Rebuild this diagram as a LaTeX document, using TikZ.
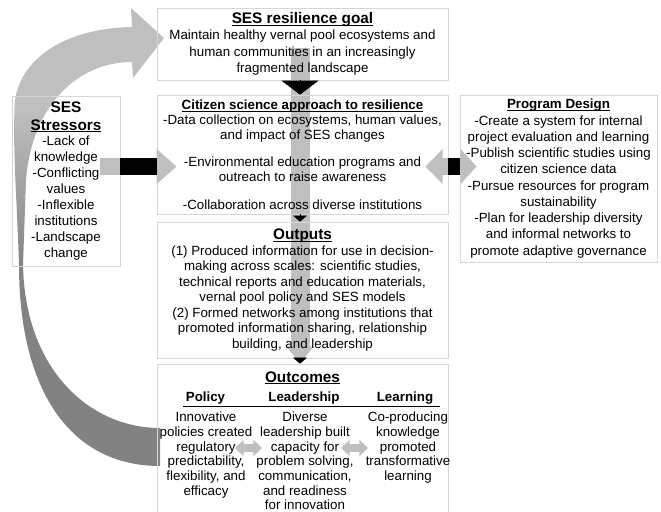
\documentclass[tikz,border=0pt]{standalone}
\usepackage{fontspec}
\setmainfont{Liberation Sans}
\usetikzlibrary{arrows.meta,calc}
\pgfdeclarelayer{background}
\pgfsetlayers{background,main}
\definecolor{boxline}{HTML}{D6D6D6}
\definecolor{lightarrow}{HTML}{BFBFBF}
\definecolor{darkarrow}{HTML}{828282}
\pgfdeclareverticalshading{arcshade}{100bp}{color(0bp)=(darkarrow); color(46bp)=(darkarrow); color(64bp)=(lightarrow); color(100bp)=(lightarrow)}
\newcommand{\undl}[1]{\setbox0=\hbox{#1}\rlap{\rule[-1.6pt]{\wd0}{0.7pt}}\box0}
\newcommand{\bigttl}{\fontsize{11.5}{13}\selectfont\bfseries}
\tikzset{
  box/.style={draw=boxline, line width=0.6pt, align=center, inner sep=0pt},
  col/.style={align=center, inner sep=0pt, font=\fontsize{10}{11}\selectfont},
  sub/.style={inner sep=0pt, font=\fontsize{10}{12}\selectfont\bfseries},
  bigshaft/.style={draw=lightarrow, line width=14.25pt, -{Triangle[width=19.5pt,length=12.75pt]}},
  sidearrow/.style={draw=lightarrow, line width=12.75pt},
  smallarrow/.style={draw=lightarrow, line width=5.5pt, {Triangle[width=12pt,length=6.5pt]}-{Triangle[width=12pt,length=6.5pt]}},
  blacktip/.style 2 args={draw=black, line width=0.4pt, -{Triangle[width=#1,length=#2]}}
}
\begin{document}
\begin{tikzpicture}[x=0.75pt,y=-0.75pt]
\useasboundingbox (0,0) rectangle (661,511);

% boxes
\node[box, minimum width=218.25pt, minimum height=54pt, font=\fontsize{10}{12.4}\selectfont] (goal) at (302.5,44)
  {{\bigttl\undl{SES resilience goal}}\\ Maintain healthy vernal pool ecosystems and\\ human communities in an increasingly\\ fragmented landscape};
\node[box, minimum width=218.25pt, minimum height=89.25pt, font=\fontsize{10}{11.25}\selectfont] (approach) at (302.5,154.5)
  {\undl{\bfseries Citizen science approach to resilience}\\ -Data collection on ecosystems, human values,\\ and impact of SES changes\\[9pt]
   -Environmental education programs and\\ outreach to raise awareness\\[9.5pt] -Collaboration across diverse institutions};
\node[box, minimum width=218.25pt, minimum height=102pt, font=\fontsize{10}{11.6}\selectfont] (outputs) at (302.5,290)
  {{\bigttl\undl{Outputs}}\\ (1) Produced information for use in decision-\\ making across scales: scientific studies,\\ technical reports and education materials,\\
   vernal pool policy and SES models\\ (2) Formed networks among institutions that\\ promoted information sharing, relationship\\ building, and leadership};
\node[box, minimum width=218.25pt, minimum height=124.5pt] (outcomes) at (302.5,447) {};
\node[box, minimum width=81pt, minimum height=127.5pt, font=\fontsize{10}{11.9}\selectfont] (stressors) at (66,181)
  {{\bigttl SES}\\[1pt] {\bigttl\undl{Stressors}}\\ -Lack of\\ knowledge\\ -Conflicting\\ values\\ -Inflexible\\ institutions\\ -Landscape\\ change};
\node[box, minimum width=147.75pt, minimum height=125.25pt, font=\fontsize{10}{12.2}\selectfont] (design) at (558.5,178.5)
  {\undl{\bfseries Program Design}\\ -Create a system for internal\\ project evaluation and learning\\ -Publish scientific studies using\\ citizen science data\\
   -Pursue resources for program\\ sustainability\\ -Plan for leadership diversity\\ and informal networks to\\ promote adaptive governance};

% outcomes content
\node[font=\bigttl, inner sep=0pt] (outttl) at (302.5,378) {\undl{Outcomes}};
\node[sub] (policy) at (205.5,398) {Policy};
\node[sub] (leader) at (304,398) {Leadership};
\node[sub] (learn) at (405,398) {Learning};
\draw[line width=0.7pt] (183,406.5) -- (440,406.5);
\node[col, anchor=north] (polcol) at (206,412) {Innovative\\ policies created\\ regulatory\\ predictability,\\ flexibility, and\\ efficacy};
\node[col, anchor=north] (leadcol) at (305,412) {Diverse\\ leadership built\\ capacity for\\ problem solving,\\ communication,\\ and readiness\\ for innovation};
\node[col, anchor=north] (learncol) at (408,412) {Co-producing\\ knowledge\\ promoted\\ transformative\\ learning};
\coordinate (pl) at (235,448);
\coordinate (lp) at (262,448);
\coordinate (ll) at (341,448);
\coordinate (lr) at (368,448);
\draw[smallarrow] (pl) -- (lp);
\draw[smallarrow] (ll) -- (lr);

% arrows behind the boxes
\coordinate (spine) at (300,0);
\coordinate (row) at (0,166.5);
\begin{pgfonlayer}{background}
  \shade[shading=arcshade] (160,466) .. controls (70,466) and (19,390) .. (19,265)
    .. controls (17,200) and (12,140) .. (15,100) .. controls (22,55) and (70,28) .. (132,27)
    -- (131,8) -- (164,38) -- (133,78) -- (132,62) .. controls (78,62) and (32,105) .. (26,180)
    -- (23,265) .. controls (25,370) and (90,428) .. (160,428) -- cycle;
  \draw[bigshaft] ([yshift=-3pt]spine |- goal.center) -- (spine |- outcomes.north);
\end{pgfonlayer}
\draw[blacktip={27.75pt}{10.5pt}] (spine |- goal.south) -- (spine |- approach.north);
\draw[blacktip={10.5pt}{4.5pt}] (spine |- approach.south) -- (spine |- outputs.north);
\draw[blacktip={10.5pt}{4.5pt}] (spine |- outputs.south) -- (spine |- outcomes.north);

% side arrows
\draw[sidearrow, -{Triangle[width=25.5pt,length=15pt]}] ($(stressors.east |- row)+(-20,0)$) -- ($(approach.west |- row)+(20,0)$);
\fill ($(stressors.east |- row)+(0,-8.5)$) rectangle ($(approach.west |- row)+(0,8.5)$);
\draw[sidearrow, {Triangle[width=25.5pt,length=13pt]}-{Triangle[width=25.5pt,length=12pt]}] ($(approach.east |- row)+(-23,0)$) -- ($(design.west |- row)+(17,0)$);
\fill ($(approach.east |- row)+(0,-8.5)$) rectangle ($(design.west |- row)+(0,8.5)$);
\end{tikzpicture}
\end{document}
